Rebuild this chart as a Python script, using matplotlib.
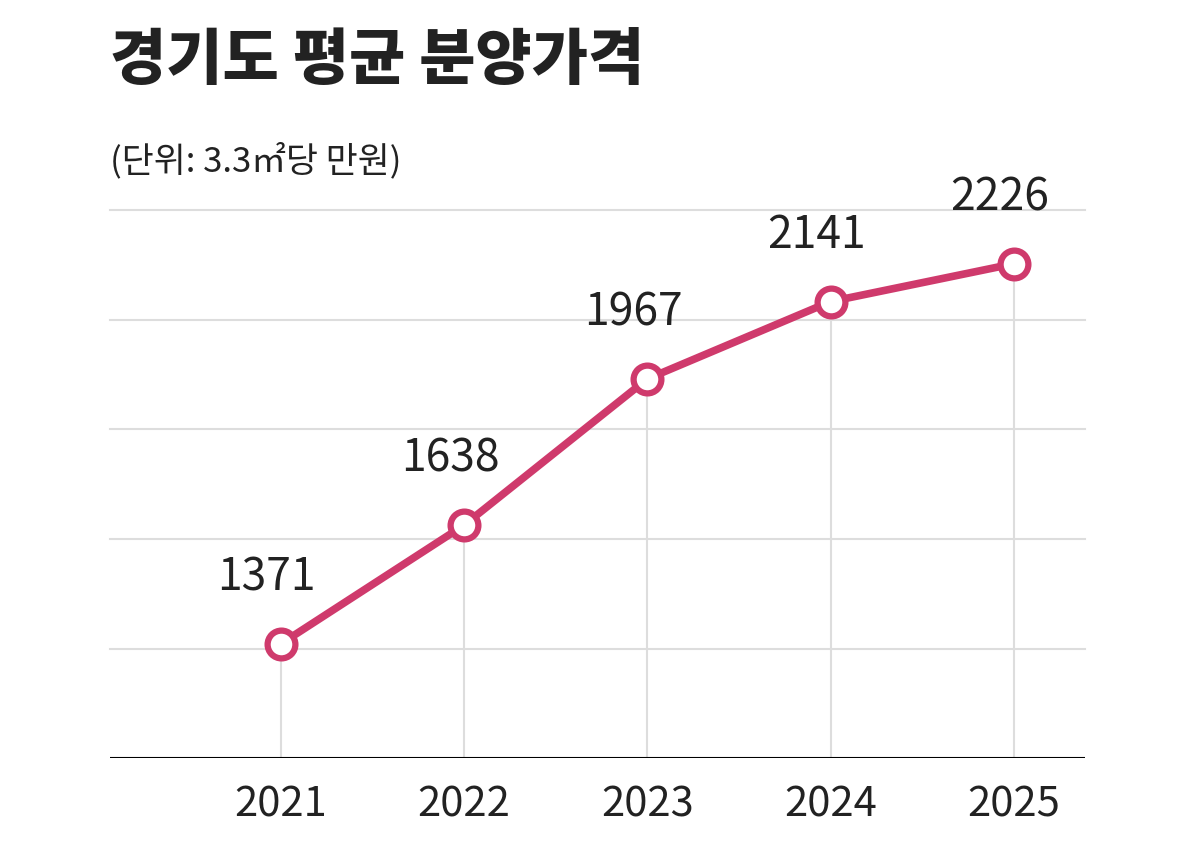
import matplotlib
matplotlib.use("Agg")
import matplotlib.pyplot as plt

years = [2021, 2022, 2023, 2024, 2025]
prices = [1371, 1638, 1967, 2141, 2226]
title = "경기도 평균 분양가격"
subtitle = "(단위: 3.3㎡당 만원)"

plt.rcParams["font.family"] = ["Noto Sans CJK KR", "Noto Sans CJK JP", "Noto Sans CJK SC", "DejaVu Sans"]
fig = plt.figure(figsize=(11.85, 8.54), dpi=100)
ax = fig.add_axes([0.093, 0.111, 0.823, 0.642])
color = "#cf3a6c"

ax.set_xlim(2020.07, 2025.39)
ax.set_ylim(1114, 2347)
for k in range(1, 6):
    ax.axhline(1114 + 246.6 * k, color="#dddddd", lw=1.5, zorder=0, clip_on=False)
for x, y in zip(years, prices):
    ax.plot([x, x], [1114, y], color="#dddddd", lw=1.5, zorder=0)
ax.axhline(1114, color="black", lw=1.5)
ax.plot(years, prices, color=color, lw=5.5, marker="o", ms=20,
        mfc="white", mec=color, mew=4.5, zorder=3, clip_on=False)
for x, y in zip(years, prices):
    ax.annotate(f"{y}", (x, y), xytext=(-10, 32), textcoords="offset points",
                ha="center", va="bottom", fontsize=32, color="#222222")
for s in ax.spines.values():
    s.set_visible(False)
ax.set_yticks([])
ax.set_xticks(years)
ax.set_xticklabels([str(y) for y in years], fontsize=30, color="#222222")
ax.tick_params(axis="x", length=0, pad=18)

fig.text(0.093, 0.928, title, fontsize=44, fontweight="heavy", color="#222222", va="center")
fig.text(0.093, 0.812, subtitle, fontsize=25, color="#222222", va="center")
fig.savefig("out.png", dpi=100, facecolor="white")
